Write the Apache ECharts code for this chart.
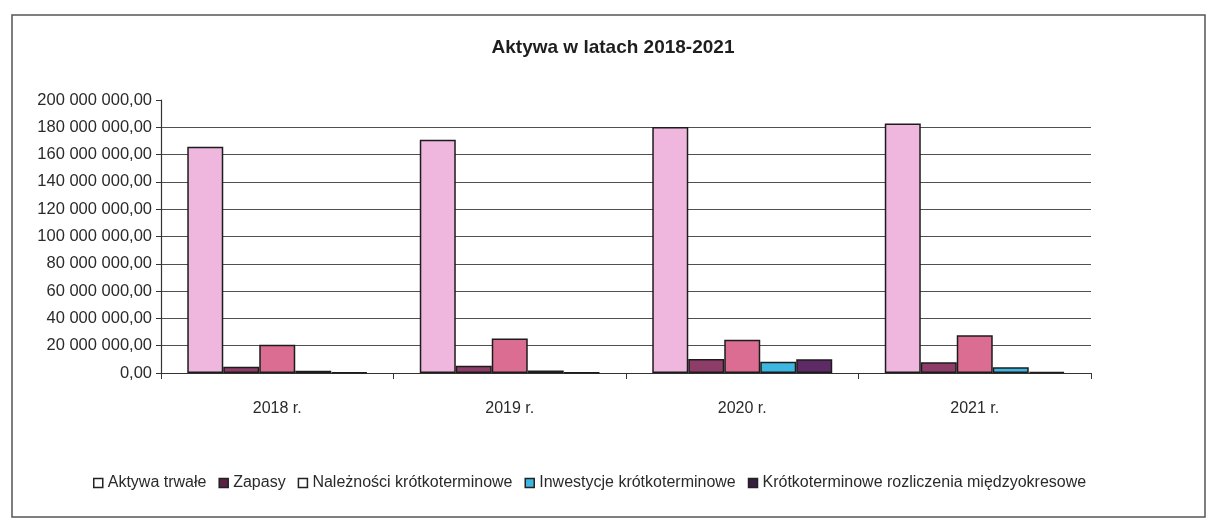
<!DOCTYPE html>
<html lang="pl">
<head>
<meta charset="utf-8">
<title>Aktywa w latach 2018-2021</title>
<script src="https://cdn.jsdelivr.net/npm/echarts@6/dist/echarts.min.js"></script>
<style>
  html, body { margin: 0; padding: 0; background: #ffffff; }
  #chart { width: 1217px; height: 530px; }
</style>
</head>
<body>
<div id="chart"></div>
<script>
// Years on the category axis
const years = ['2018 r.', '2019 r.', '2020 r.', '2021 r.'];

// Asset groups (PLN)
const aktywaTrwale = [165800000, 170800000, 180300000, 182800000];
const zapasy = [4600000, 5300000, 10300000, 7900000];
const naleznosci = [20700000, 25200000, 24300000, 27600000];
const inwestycje = [1700000, 1900000, 8200000, 4200000];
const rozliczenia = [500000, 300000, 10000000, 900000];

// Value axis range
const yMin = 0;
const yMax = 200000000;
const yStep = 20000000;

const seriesNames = [
  'Aktywa trwałe',
  'Zapasy',
  'Należności krótkoterminowe',
  'Inwestycje krótkoterminowe',
  'Krótkoterminowe rozliczenia międzyokresowe'
];
const seriesData = [aktywaTrwale, zapasy, naleznosci, inwestycje, rozliczenia];
const seriesColors = ['#efb6de', '#8e3c68', '#dc6d92', '#3db6e2', '#5e2a66'];
const legendIconColors = ['#ffffff', '#5a2244', '#ffffff', '#3db6e2', '#3a1c40'];

// "200 000 000,00" style number formatting
function formatPl(v) {
  const s = Math.round(v).toString().replace(/\B(?=(\d{3})+(?!\d))/g, ' ');
  return s + ',00';
}

const chart = echarts.init(document.getElementById('chart'), null, { renderer: 'canvas' });

const option = {
  backgroundColor: '#ffffff',
  animation: false,
  textStyle: { fontFamily: 'Liberation Sans, Arial, sans-serif' },
  title: {
    text: 'Aktywa w latach 2018-2021',
    left: 608,
    top: 33,
    textAlign: 'center',
    textStyle: { fontSize: 19, fontWeight: 'bold', color: '#1e1e1e', fontFamily: 'Liberation Sans, Arial, sans-serif' }
  },
  legend: {
    left: 88,
    top: 470,
    itemWidth: 9,
    itemHeight: 9,
    itemGap: 12,
    icon: 'rect',
    textStyle: { fontSize: 16, color: '#2a2a2a', padding: [0, 0, 0, 0], fontFamily: 'Liberation Sans, Arial, sans-serif' },
    data: seriesNames.map((n, i) => ({
      name: n,
      itemStyle: { color: legendIconColors[i], borderColor: '#222222', borderWidth: 1.5 }
    }))
  },
  grid: { left: 161, right: 126, top: 100, bottom: 157, containLabel: false },
  xAxis: {
    type: 'category',
    data: years,
    axisLine: { show: true, lineStyle: { color: '#333', width: 1.2 } },
    axisTick: { show: true, length: 6, lineStyle: { color: '#333' } },
    axisLabel: { margin: 28, fontSize: 16, color: '#2a2a2a' },
    splitLine: { show: false }
  },
  yAxis: {
    type: 'value',
    min: yMin,
    max: yMax,
    interval: yStep,
    axisLine: { show: true, lineStyle: { color: '#333', width: 1.2 } },
    axisTick: { show: true, length: 5, lineStyle: { color: '#333' } },
    axisLabel: { margin: 9, fontSize: 16.5, color: '#2a2a2a', formatter: formatPl },
    splitLine: { show: true, showMinLine: false, showMaxLine: false, lineStyle: { color: '#505050', width: 1 } }
  },
  series: seriesNames.map((name, i) => ({
    name: name,
    type: 'bar',
    data: seriesData[i],
    barGap: '0%',
    barCategoryGap: '22.6%',
    itemStyle: { color: seriesColors[i], borderColor: '#1c1c1c', borderWidth: 1.5 }
  })),
  graphic: [
    {
      type: 'rect',
      shape: { x: 12, y: 15, width: 1193, height: 502 },
      style: { fill: 'none', stroke: '#555', lineWidth: 1.5 },
      silent: true
    }
  ]
};

chart.setOption(option);
</script>
</body>
</html>
